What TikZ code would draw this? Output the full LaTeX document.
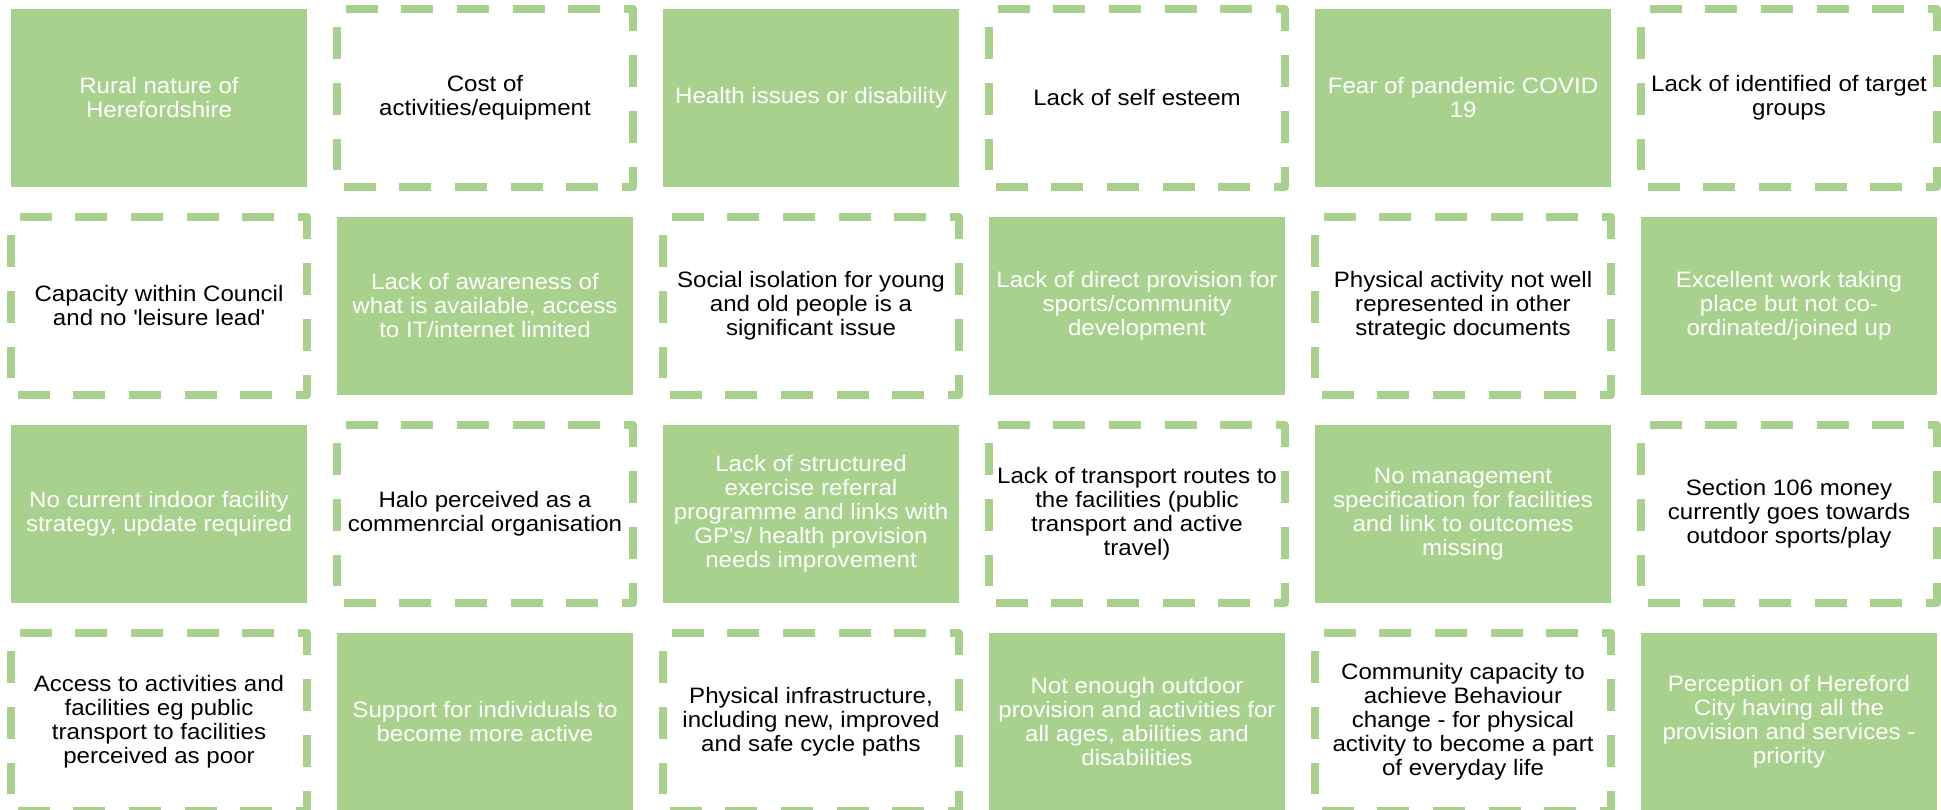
\documentclass[tikz,border=0pt]{standalone}
\usepackage{fontspec}
\setmainfont{Liberation Sans}[FakeStretch=1.08]
\definecolor{leafgreen}{HTML}{A9D18E}

\tikzset{
  cellbox/.style={minimum width=296pt, minimum height=178pt, inner sep=0pt,
    align=center, font=\fontsize{22.3}{24}\selectfont},
  solidcell/.style={cellbox, fill=leafgreen, text=white},
  dashcell/.style={cellbox, fill=white, text=black},
  dashedge/.style={draw=leafgreen, line width=7.95pt,
    dash pattern=on 31.8pt off 23.85pt, dash phase=46.65pt, line join=round}
}

% dashed outline, clockwise from the top-left corner
\newcommand{\dashframe}[1]{%
  \draw[dashedge] (#1.north west) -- (#1.north east) -- (#1.south east)
    -- (#1.south west) -- cycle;}
% straight apostrophe
\newcommand{\sq}{\textquotesingle}

\begin{document}
\begin{tikzpicture}[x=1pt, y=-1pt]
\useasboundingbox (0,0) rectangle (1941,809);

% column centres: 159, 485, 811, 1137, 1463, 1789
% row centres:    98, 306, 514, 722

% ---- row 1 ----
\node[solidcell] (r1c1) at (159,98) {Rural nature of\\Herefordshire};
\node[dashcell]  (r1c2) at (485,98) {Cost of\\activities/equipment};
\node[solidcell] (r1c3) at (811,98) {Health issues or disability};
\node[dashcell]  (r1c4) at (1137,98) {Lack of self esteem};
\node[solidcell] (r1c5) at (1463,98) {Fear of pandemic COVID\\19};
\node[dashcell]  (r1c6) at (1789,98) {Lack of identified of target\\groups};

% ---- row 2 ----
\node[dashcell]  (r2c1) at (159,306) {Capacity within Council\\and no \sq leisure lead\sq};
\node[solidcell] (r2c2) at (485,306) {Lack of awareness of\\what is available, access\\to IT/internet limited};
\node[dashcell]  (r2c3) at (811,306) {Social isolation for young\\and old people is a\\significant issue};
\node[solidcell] (r2c4) at (1137,306) {Lack of direct provision for\\sports/community\\development};
\node[dashcell]  (r2c5) at (1463,306) {Physical activity not well\\represented in other\\strategic documents};
\node[solidcell] (r2c6) at (1789,306) {Excellent work taking\\place but not co-\\ordinated/joined up};

% ---- row 3 ----
\node[solidcell] (r3c1) at (159,514) {No current indoor facility\\strategy, update required};
\node[dashcell]  (r3c2) at (485,514) {Halo perceived as a\\commenrcial organisation};
\node[solidcell] (r3c3) at (811,514) {Lack of structured\\exercise referral\\programme and links with\\GP\sq s/ health provision\\needs improvement};
\node[dashcell]  (r3c4) at (1137,514) {Lack of transport routes to\\the facilities (public\\transport and active\\travel)};
\node[solidcell] (r3c5) at (1463,514) {No management\\specification for facilities\\and link to outcomes\\missing};
\node[dashcell]  (r3c6) at (1789,514) {Section 106 money\\currently goes towards\\outdoor sports/play};

% ---- row 4 ----
\node[dashcell]  (r4c1) at (159,722) {Access to activities and\\facilities eg public\\transport to facilities\\perceived as poor};
\node[solidcell] (r4c2) at (485,722) {Support for individuals to\\become more active};
\node[dashcell]  (r4c3) at (811,722) {Physical infrastructure,\\including new, improved\\and safe cycle paths};
\node[solidcell] (r4c4) at (1137,722) {Not enough outdoor\\provision and activities for\\all ages, abilities and\\disabilities};
\node[dashcell]  (r4c5) at (1463,722) {Community capacity to\\achieve Behaviour\\change - for physical\\activity to become a part\\of everyday life};
\node[solidcell] (r4c6) at (1789,722) {Perception of Hereford\\City having all the\\provision and services -\\priority};

% dashed frames
\foreach \n in {r1c2,r1c4,r1c6,r2c1,r2c3,r2c5,r3c2,r3c4,r3c6,r4c1,r4c3,r4c5}
  {\dashframe{\n}}
\end{tikzpicture}
\end{document}
